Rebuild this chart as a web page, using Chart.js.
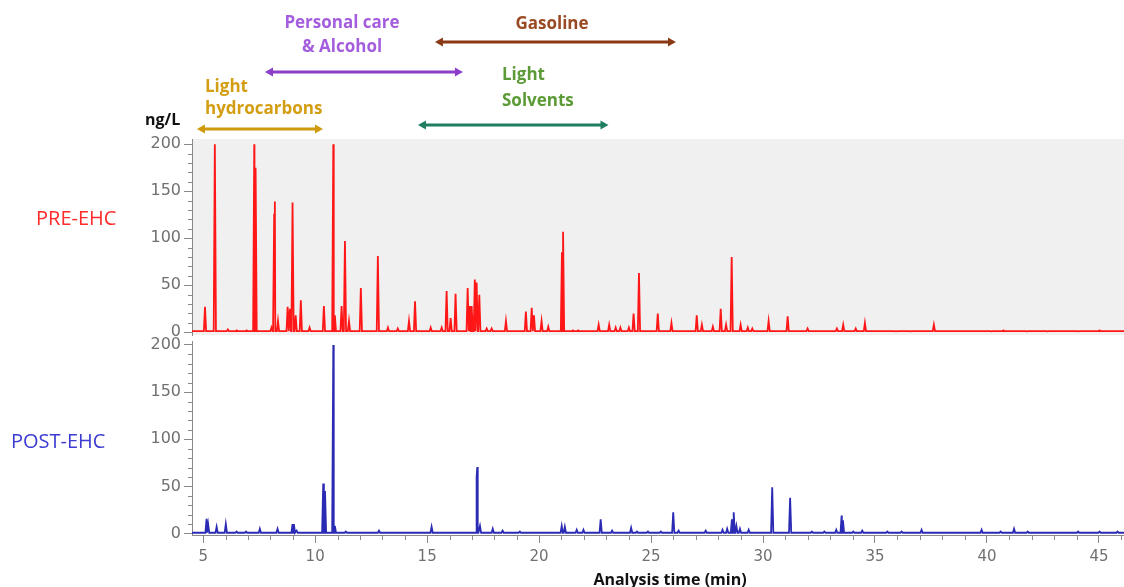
<!DOCTYPE html>
<html><head><meta charset="utf-8">
<script src="https://cdn.jsdelivr.net/npm/chart.js@4.4.1/dist/chart.umd.min.js"></script>
<style>
html,body{margin:0;padding:0;background:#fff;overflow:hidden}
#wrap{position:relative;width:1124px;height:587px}
.box{position:absolute;left:0;width:1124px}
</style></head><body>
<div id="wrap">
<div class="box" style="top:0;height:336px"><canvas id="c1" width="1124" height="336"></canvas></div>
<div class="box" style="top:336px;height:251px"><canvas id="c2" width="1124" height="251"></canvas></div>
</div>
<script>
// ---------- DATA ----------
// PRE-EHC peaks: retention time (min) and height (ng/L, clipped at 200)
const preTimes = [5.08,5.52,6.10,6.50,6.94,7.28,7.34,8.05,8.17,8.20,8.34,8.77,8.87,8.99,9.13,9.36,9.75,10.39,10.81,10.88,11.18,11.33,11.51,12.04,12.80,13.25,13.69,14.19,14.46,15.16,15.65,15.87,16.05,16.27,16.81,16.91,16.99,17.13,17.21,17.33,17.66,17.88,18.52,19.41,19.67,19.77,20.11,20.41,21.02,21.07,21.51,21.75,22.66,23.13,23.42,23.63,24.01,24.22,24.46,25.30,25.91,27.04,27.27,27.76,28.11,28.35,28.60,29.00,29.32,29.52,30.25,31.10,31.99,33.30,33.58,34.14,34.55,35.94,36.59,37.63,40.21,40.74,41.78,42.70,44.07,45.03];
const preHeights = [27,200,3,2,2,200,175,5,125,139,12,27,25,138,18,34,5,28,200,18,28,97,12,47,81,5,4,12,33,5,5,44,15,41,47,28,28,56,53,40,4,4,12,22,26,18,12,6,85,107,2,2,8,8,5,5,5,20,63,20,10,18,8,6,25,8,80,8,5,4,12,17,4,4,8,4,10,1,1,8,1,2,1,1,1,2];
// POST-EHC peaks
const postTimes = [5.15,5.22,5.60,6.01,6.49,6.91,7.53,8.32,8.99,9.05,9.17,10.36,10.44,10.81,10.88,11.37,12.85,14.01,15.20,17.21,17.24,17.36,17.93,18.37,18.67,19.14,21.01,21.15,21.68,21.98,22.75,23.26,24.11,24.37,24.86,25.44,25.99,26.23,27.44,28.19,28.40,28.61,28.69,28.81,28.97,29.36,30.41,31.21,32.18,32.74,33.27,33.51,33.57,34.03,34.43,35.55,36.19,37.08,39.76,40.61,41.21,41.82,44.07,45.03,45.83];
const postHeights = [15.5,10,7,10,2,2,5,5,10,10,3,53,45,200,8,2,3,1,7,60,70.5,8,5,3,1,2,8,7,4,4,15,3,6,2,2,2,22.5,3,3,4,5,15,22.5,8,5,4,49,38,2,2,4,19,14,2,3,2,2,4,4,2,5,2,2,2,2];
// tick labels
const xTickValues = [5,10,15,20,25,30,35,40,45];
const xMinorValues = [6,7,8,9,11,12,13,14,16,17,18,19,21,22,23,24,26,27,28,29,31,32,33,34,36,37,38,39,41,42,43,44,46];
const yTickValues = [0,50,100,150,200];
const yMinorValues = [10,20,30,40,60,70,80,90,110,120,130,140,160,170,180,190];
// compound-group ranges (min)
const groupNames = ['Light hydrocarbons','Personal care & Alcohol','Gasoline','Light Solvents'];
const groupLines = [['Light','hydrocarbons'],['Personal care','& Alcohol'],['Gasoline'],['Light','Solvents']];
const groupStart = [4.72,7.76,15.35,14.59];
const groupEnd = [10.35,16.60,26.11,23.10];
const panelNames = ['PRE-EHC','POST-EHC'];
const yUnit = 'ng/L';
const xTitle = 'Analysis time (min)';

// ---------- STYLE / LAYOUT ----------
const X_MIN = 4.5, X_MAX = 46.12, PEAK_W = 0.05;
const groupStyle = [
  {text:'#d39e12', arrow:'#cf9a0c', arrowY:129, align:'left', tx:205, ty:[92,114]},
  {text:'#a45ddc', arrow:'#8c3ec9', arrowY:72, align:'center', tx:342, ty:[28,52]},
  {text:'#9a4a22', arrow:'#8a3914', arrowY:42, align:'center', tx:552, ty:[29]},
  {text:'#5b9a36', arrow:'#1f7d62', arrowY:125, align:'left', tx:502, ty:[80,106]}
];
const yTickFont = {family:'DejaVu Sans', size:16};
const xTickFont = {family:'DejaVu Sans', size:15};
const tickColor = '#707070';
const axisColor = '#8a8a8a';

function buildSeries(times, heights, base){
  const pts = [{x:X_MIN,y:base},{x:X_MAX,y:base}];
  times.forEach((t,i)=>{ pts.push({x:t-PEAK_W,y:base},{x:t,y:heights[i]},{x:t+PEAK_W,y:base}); });
  pts.sort((a,b)=>a.x-b.x);
  return pts;
}

const minorTicks = {
  id:'minorTicks',
  afterDraw(chart){
    const ctx = chart.ctx, ca = chart.chartArea;
    ctx.save(); ctx.strokeStyle = axisColor; ctx.lineWidth = 1;
    const ys = chart.scales.y;
    yMinorValues.forEach(v=>{ const y = Math.round(ys.getPixelForValue(v))+0.5; ctx.beginPath(); ctx.moveTo(ca.left-4,y); ctx.lineTo(ca.left,y); ctx.stroke(); });
    if (chart.options.scales.x.display){
      const xs = chart.scales.x;
      xMinorValues.forEach(v=>{ const x = Math.round(xs.getPixelForValue(v))+0.5; ctx.beginPath(); ctx.moveTo(x,ca.bottom); ctx.lineTo(x,ca.bottom+5); ctx.stroke(); });
    }
    ctx.restore();
  }
};

const greyBg = {
  id:'greyBg',
  beforeDraw(chart){
    const ca = chart.chartArea, ctx = chart.ctx;
    ctx.save(); ctx.fillStyle = '#f0f0f0'; ctx.fillRect(ca.left, ca.top, ca.right-ca.left, ca.bottom-ca.top); ctx.restore();
  }
};

function drawArrow(ctx,x1,x2,y,color){
  ctx.save();
  ctx.strokeStyle = color; ctx.fillStyle = color; ctx.lineWidth = 3;
  ctx.beginPath(); ctx.moveTo(x1+5,y); ctx.lineTo(x2-5,y); ctx.stroke();
  ctx.beginPath(); ctx.moveTo(x1,y); ctx.lineTo(x1+8,y-4.5); ctx.lineTo(x1+8,y+4.5); ctx.closePath(); ctx.fill();
  ctx.beginPath(); ctx.moveTo(x2,y); ctx.lineTo(x2-8,y-4.5); ctx.lineTo(x2-8,y+4.5); ctx.closePath(); ctx.fill();
  ctx.restore();
}

const topAnnot = {
  id:'topAnnot',
  afterDraw(chart){
    const ctx = chart.ctx, xs = chart.scales.x;
    groupNames.forEach((name,i)=>{
      const st = groupStyle[i];
      drawArrow(ctx, xs.getPixelForValue(groupStart[i]), xs.getPixelForValue(groupEnd[i]), st.arrowY, st.arrow);
      ctx.save();
      ctx.font = '700 17px "Open Sans"'; ctx.fillStyle = st.text; ctx.textAlign = st.align; ctx.textBaseline = 'alphabetic';
      groupLines[i].forEach((ln,j)=> ctx.fillText(ln, st.tx, st.ty[j]));
      ctx.restore();
    });
    ctx.save();
    ctx.font = '700 16px "Open Sans"'; ctx.fillStyle = '#111'; ctx.textAlign = 'left'; ctx.textBaseline = 'alphabetic';
    ctx.fillText(yUnit, 145, 125);
    ctx.font = '400 20px "Open Sans"'; ctx.fillStyle = '#ff2a2a';
    ctx.fillText(panelNames[0], 36, 225);
    ctx.restore();
  }
};

const bottomAnnot = {
  id:'bottomAnnot',
  afterDraw(chart){
    const ctx = chart.ctx;
    ctx.save();
    ctx.font = '400 20px "Open Sans"'; ctx.fillStyle = '#3c3cd2'; ctx.textAlign='left'; ctx.textBaseline='alphabetic';
    ctx.fillText(panelNames[1], 11, 112);
    ctx.font = '700 16px "Open Sans"'; ctx.fillStyle = '#111'; ctx.textAlign='center';
    ctx.fillText(xTitle, 670, 249);
    ctx.restore();
  }
};

function yScale(min,max){
  return {
    type:'linear', min, max,
    afterBuildTicks: s => { s.ticks = yTickValues.map(v=>({value:v})); },
    afterFit: s => { s.width = 192; s.paddingTop = 0; s.paddingBottom = 0; },
    ticks:{font:yTickFont, color:tickColor, padding:3},
    grid:{drawOnChartArea:false, tickLength:8, color:axisColor},
    border:{color:axisColor}
  };
}

new Chart(document.getElementById('c1'), {
  type:'line',
  data:{datasets:[{data:buildSeries(preTimes,preHeights,1.2), borderColor:'#ff1616', borderWidth:1.8, pointRadius:0, tension:0, fill:false}]},
  options:{
    responsive:false, animation:false, events:[],
    layout:{padding:{top:139,bottom:1,left:0,right:0}},
    plugins:{legend:{display:false}, tooltip:{enabled:false}},
    scales:{
      x:{type:'linear', display:false, min:X_MIN, max:X_MAX},
      y:yScale(-2.9,205.6)
    }
  },
  plugins:[greyBg, minorTicks, topAnnot]
});

new Chart(document.getElementById('c2'), {
  type:'line',
  data:{datasets:[{data:buildSeries(postTimes,postHeights,0.8), borderColor:'#2a2ab4', borderWidth:1.8, pointRadius:0, tension:0, fill:false}]},
  options:{
    responsive:false, animation:false, events:[],
    layout:{padding:{top:5,bottom:0,left:0,right:0}},
    plugins:{legend:{display:false}, tooltip:{enabled:false}},
    scales:{
      x:{type:'linear', min:X_MIN, max:X_MAX,
        afterBuildTicks: s => { s.ticks = xTickValues.map(v=>({value:v})); },
        afterFit: s => { s.height = 52; },
        ticks:{font:xTickFont, color:tickColor, padding:5, maxRotation:0, autoSkip:false},
        grid:{drawOnChartArea:false, tickLength:8, color:axisColor},
        border:{color:axisColor}
      },
      y:yScale(-1.6,204.2)
    }
  },
  plugins:[minorTicks, bottomAnnot]
});
</script>
</body></html>
